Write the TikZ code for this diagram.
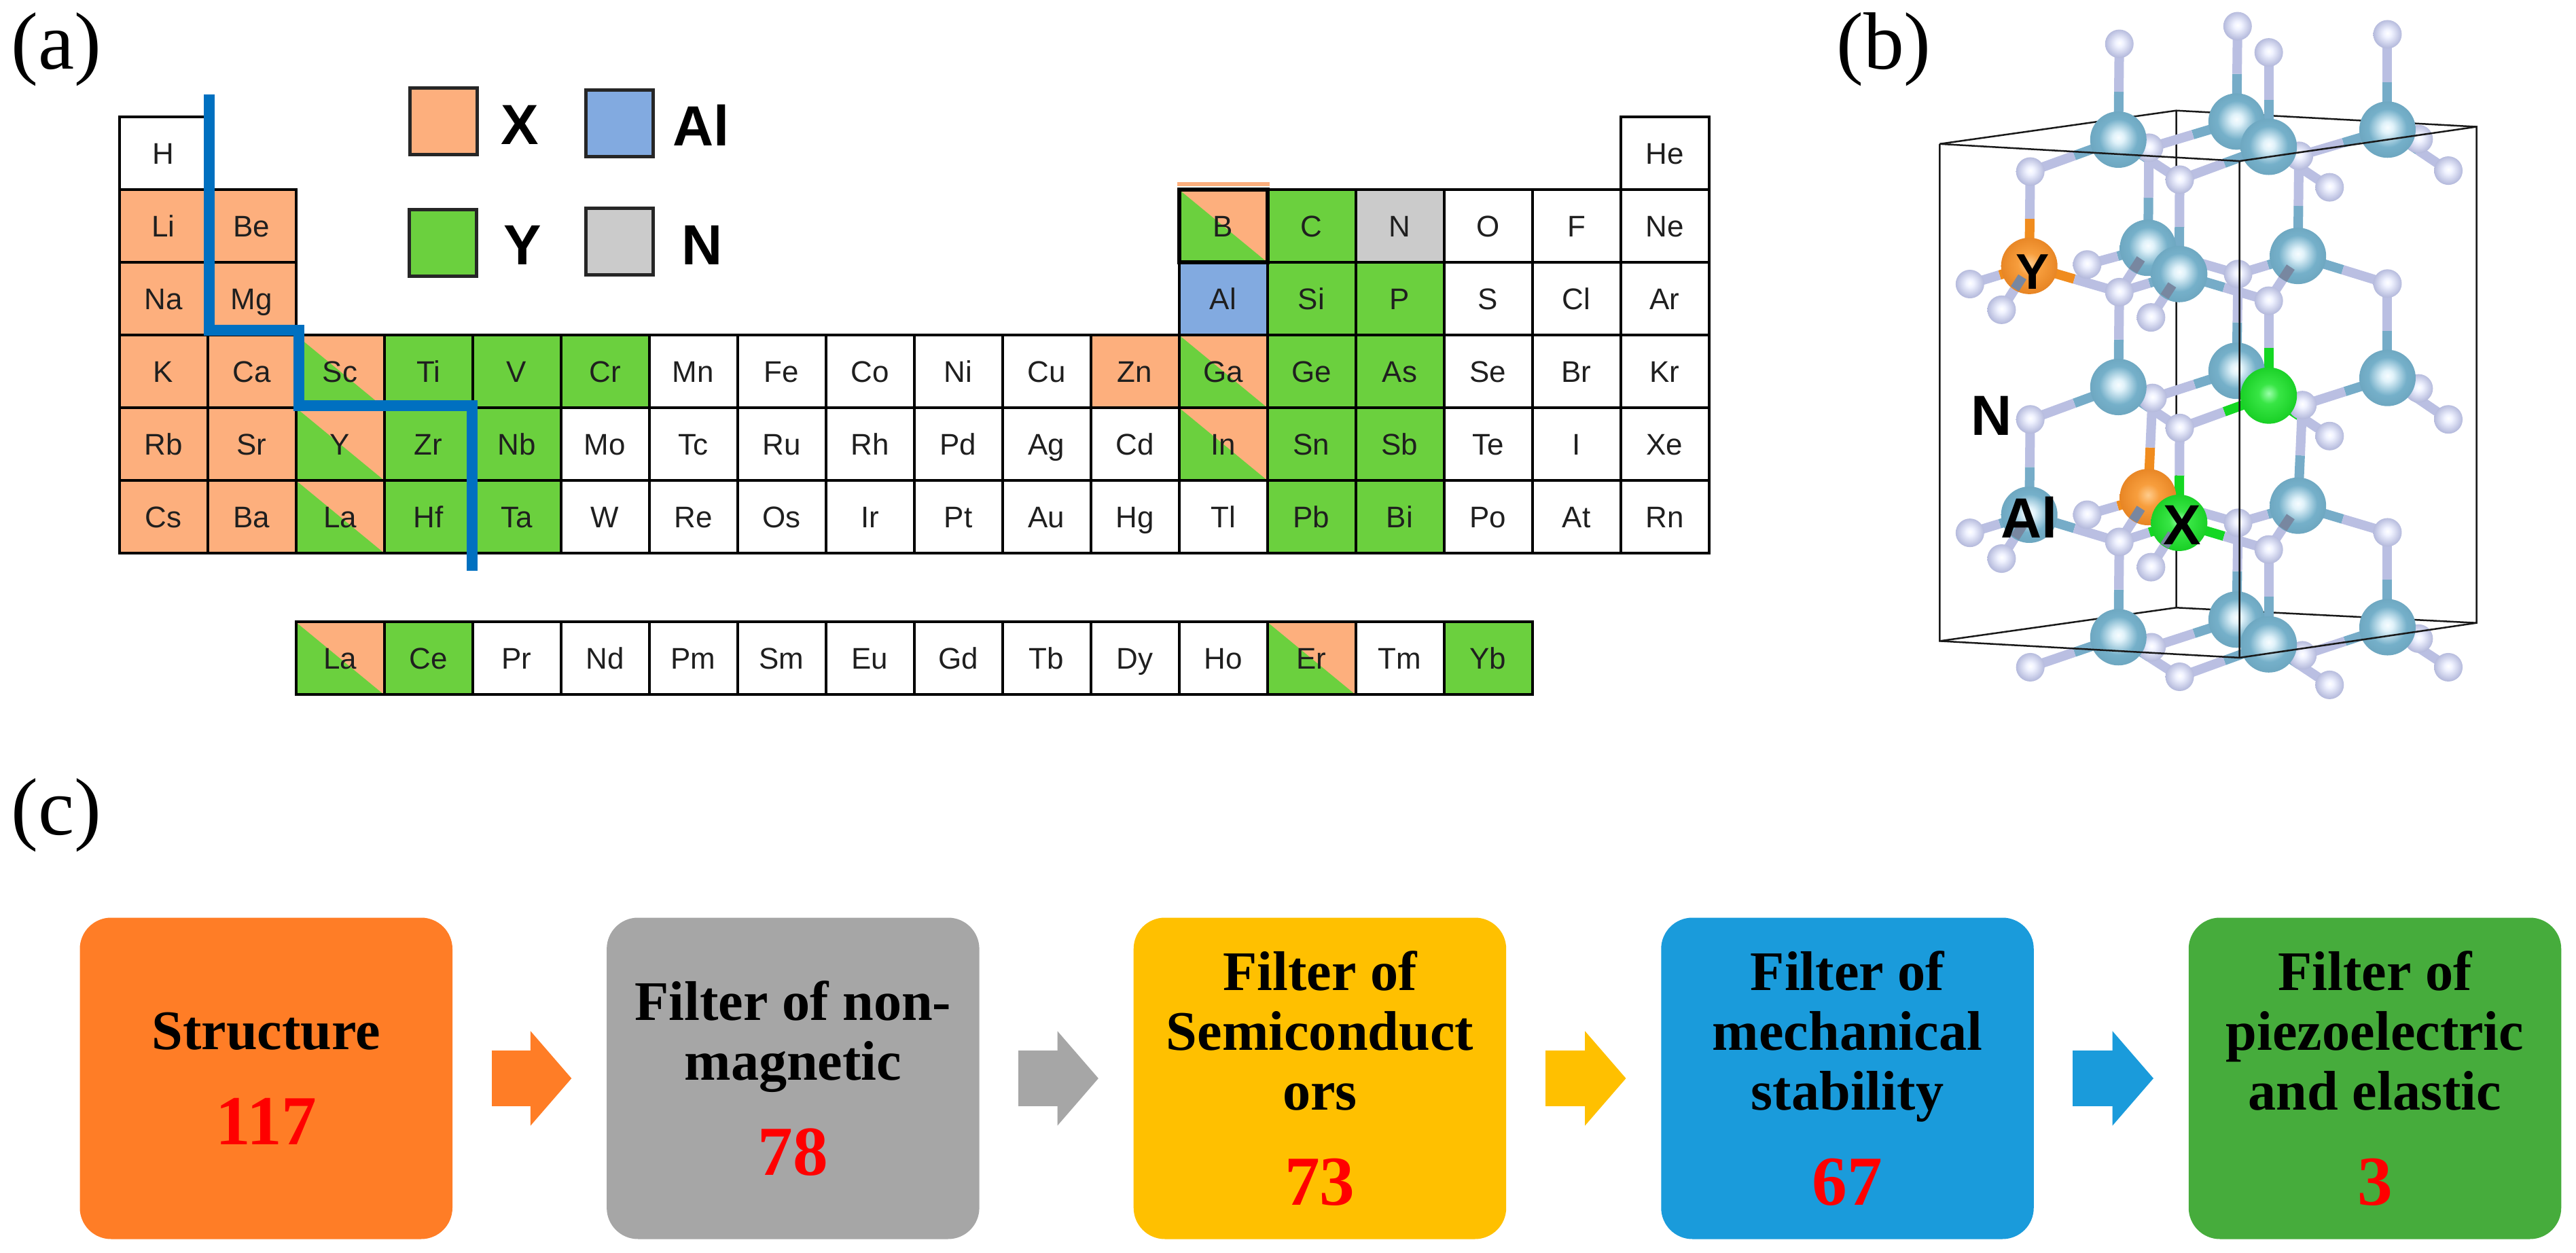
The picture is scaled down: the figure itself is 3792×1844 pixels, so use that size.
\documentclass[tikz,border=0pt]{standalone}
\usepackage{fontspec}
\setmainfont{Liberation Serif}
\setsansfont{Liberation Sans}
\usetikzlibrary{arrows.meta,calc,backgrounds}

\definecolor{elorange}{RGB}{253,175,125}
\definecolor{elgreen}{RGB}{107,208,62}
\definecolor{elblue}{RGB}{130,170,224}
\definecolor{elgray}{RGB}{203,203,203}
\definecolor{flowgreen}{RGB}{70,172,60}
\definecolor{flowblue}{RGB}{26,155,219}
\definecolor{floworange}{RGB}{255,125,38}
\definecolor{flowyellow}{RGB}{255,192,0}
\definecolor{flowgray}{RGB}{166,166,166}
\definecolor{borderblue}{RGB}{0,112,192}
\definecolor{bondal}{RGB}{118,172,200}
\definecolor{bondn}{RGB}{186,191,226}
\definecolor{bondy}{RGB}{240,140,30}
\definecolor{bondx}{RGB}{20,215,35}
\definecolor{bondstub}{RGB}{120,135,160}

\pgfdeclareradialshading{alshade}{\pgfpoint{0bp}{2bp}}{rgb(0bp)=(.97,.99,1);rgb(5bp)=(.88,.95,.98);rgb(17bp)=(.46,.69,.79);rgb(36bp)=(.39,.61,.71);rgb(50bp)=(.30,.47,.56)}
\pgfdeclareradialshading{nshade}{\pgfpoint{0bp}{2bp}}{rgb(0bp)=(1,1,1);rgb(7bp)=(.94,.95,1);rgb(24bp)=(.72,.74,.87);rgb(50bp)=(.57,.59,.75)}
\pgfdeclareradialshading{yshade}{\pgfpoint{0bp}{2bp}}{rgb(0bp)=(1,.80,.55);rgb(10bp)=(.97,.62,.24);rgb(32bp)=(.88,.48,.10);rgb(50bp)=(.66,.35,.06)}
\pgfdeclareradialshading{xshade}{\pgfpoint{0bp}{2bp}}{rgb(0bp)=(.60,1,.66);rgb(9bp)=(.22,.90,.27);rgb(32bp)=(.05,.78,.10);rgb(50bp)=(.03,.53,.07)}

\newcommand{\flownum}[1]{{\fontsize{29.4}{25}\selectfont\color{red}#1}}

\tikzset{
	elcell/.style={draw=black, line width=.4mm, minimum width=13mm, minimum height=10.7mm, inner sep=0pt, text height=3.2mm, text depth=0pt, text=black!88, font=\fontsize{12.5}{15}\selectfont\sffamily},
	elw/.style={elcell, fill=white},
	elx/.style={elcell, fill=elorange},
	ely/.style={elcell, fill=elgreen},
	elal/.style={elcell, fill=elblue},
	eln/.style={elcell, fill=elgray},
	elxy/.style={elcell, fill=elorange, path picture={\fill[elgreen] (path picture bounding box.north west)--(path picture bounding box.south east)--(path picture bounding box.south west)--cycle;}},
	legendbox/.style={draw=black!85, line width=.5mm, minimum width=9.9mm, minimum height=9.8mm, inner sep=0pt},
	legendtext/.style={font=\fontsize{23.7}{26}\selectfont\sffamily\bfseries, inner sep=0pt},
	paneltext/.style={font=\fontsize{34}{36}\selectfont, anchor=base, inner sep=0pt},
	flowbox/.style={rounded corners=4.6mm, minimum width=54.85mm, minimum height=47.3mm, inner sep=0pt, align=center, font=\fontsize{23.4}{25}\selectfont\bfseries},
	flowarrow/.style={line width=8.2mm, -{Triangle[length=6.05mm, width=13.6mm]}},
	nball/.style={circle, minimum size=4.2mm, inner sep=0pt, shading=nshade},
	alball/.style={circle, minimum size=8.3mm, inner sep=0pt, shading=alshade},
	yball/.style={circle, minimum size=8.3mm, inner sep=0pt, shading=yshade},
	xball/.style={circle, minimum size=8.3mm, inner sep=0pt, shading=xshade},
	bondline/.style={line width=1.4mm},
	cellline/.style={draw=black!90, line width=.25mm},
}

\begin{document}
\begin{tikzpicture}[x=.1mm, y=-.1mm, >=latex]
\useasboundingbox (0,0) rectangle (3792,1844);

\node (pa)[paneltext] at (83,102) {(a)};
\node (pb)[paneltext] at (2773,102) {(b)};
\node (pc)[paneltext] at (83,1228) {(c)};

% periodic table
\foreach \c/\r/\e/\k in {1/1/H/elw,18/1/He/elw,
	1/2/Li/elx,2/2/Be/elx,14/2/C/ely,15/2/N/eln,16/2/O/elw,17/2/F/elw,18/2/Ne/elw,
	1/3/Na/elx,2/3/Mg/elx,13/3/Al/elal,14/3/Si/ely,15/3/P/ely,16/3/S/elw,17/3/Cl/elw,18/3/Ar/elw,
	1/4/K/elx,2/4/Ca/elx,3/4/Sc/elxy,4/4/Ti/ely,5/4/V/ely,6/4/Cr/ely,7/4/Mn/elw,8/4/Fe/elw,9/4/Co/elw,10/4/Ni/elw,11/4/Cu/elw,12/4/Zn/elx,13/4/Ga/elxy,14/4/Ge/ely,15/4/As/ely,16/4/Se/elw,17/4/Br/elw,18/4/Kr/elw,
	1/5/Rb/elx,2/5/Sr/elx,3/5/Y/elxy,4/5/Zr/ely,5/5/Nb/ely,6/5/Mo/elw,7/5/Tc/elw,8/5/Ru/elw,9/5/Rh/elw,10/5/Pd/elw,11/5/Ag/elw,12/5/Cd/elw,13/5/In/elxy,14/5/Sn/ely,15/5/Sb/ely,16/5/Te/elw,17/5/I/elw,18/5/Xe/elw,
	1/6/Cs/elx,2/6/Ba/elx,3/6/La/elxy,4/6/Hf/ely,5/6/Ta/ely,6/6/W/elw,7/6/Re/elw,8/6/Os/elw,9/6/Ir/elw,10/6/Pt/elw,11/6/Au/elw,12/6/Hg/elw,13/6/Tl/elw,14/6/Pb/ely,15/6/Bi/ely,16/6/Po/elw,17/6/At/elw,18/6/Rn/elw}
{
	\node (\e\r)[\k] at ({175.5+130*(\c-.5)},{172+107*(\r-.5)}) {\e};
}
\foreach \c/\e/\k in {3/La/elxy,4/Ce/ely,5/Pr/elw,6/Nd/elw,7/Pm/elw,8/Sm/elw,9/Eu/elw,10/Gd/elw,11/Tb/elw,12/Dy/elw,13/Ho/elw,14/Er/elxy,15/Tm/elw,16/Yb/ely}
{
	\node (\e7)[\k] at ({175.5+130*(\c-.5)},969) {\e};
}
\node (B2)[elxy, line width=.6mm] at ({175.5+130*12.5},{172+107*1.5}) {B};
\fill[elorange] ([yshift=.2mm]B2.north west) rectangle ([yshift=.8mm]B2.north east);

\draw[borderblue, line width=1.6mm] (307.5,139)--(307.5,486)--(439.5,486)--(439.5,597.5)--(695,597.5)--(695,840);

% legend
\node (lx)[legendbox, fill=elorange] at (653,179) {};
\node (lal)[legendbox, fill=elblue] at (912,182) {};
\node (ly)[legendbox, fill=elgreen] at (652,358) {};
\node (ln)[legendbox, fill=elgray] at (912,356) {};
\node (tx)[legendtext] at (765,184) {X};
\node (tal)[legendtext] at (1032,184) {Al};
\node (ty)[legendtext] at (769,361) {Y};
\node (tn)[legendtext] at (1034,361) {N};

% crystal cell
\begin{scope}[shift={(2650,0)}, x=.07283mm, y=-.07015mm]
\foreach \a/\px/\py in {u5/705/310,u6/1008/327,u7/1250/292,w5/712/835,w6/1015/850,w7/1250/815,y5/710/1358,y6/1015/1375,y7/1250/1340,
	v6/885/575,x6/885/1097}
{
	\node (\a)[nball] at (\px,\py) {};
}
\foreach \a/\px/\py in {a2/882/255,c2/882/778,e2/882/1300,b2/703/520,b4/1006/537,d4/1006/1061,a1/643/293,a4/1187/272,a3/947/308,b3/766/575,c1/643/812,c4/1187/793,d1/463/1080,e1/643/1337,e4/1187/1316,e3/947/1352}
{
	\node (\a)[alball] at (\px,\py) {};
}
\node (b1)[yball] at (463,558) {};
\node (d2)[yball] at (703,1043) {};
\node (c3)[xball] at (947,830) {};
\node (d3)[xball] at (766,1097) {};
\foreach \a/\px/\py in {t1/645/92,t2/884/55,t3/947/110,t4/1187/72,u1/465/360,u2/767/377,u3/1070/393,u4/1310/358,
	v1/343/596,v2/407/650,v3/580/555,v4/645/613,v5/709/666,v7/947/631,v8/1187/595,
	w1/465/880,w2/767/898,w3/1070/915,w4/1310/880,
	x1/343/1118,x2/407/1172,x3/580/1080,x4/645/1137,x5/709/1190,x7/947/1153,x8/1187/1117,
	y1/465/1400,y2/767/1420,y3/1070/1437,y4/1310/1400}
{
	\node (\a)[nball] at (\px,\py) {};
}

\coordinate (ctl) at (282,302);
\coordinate (ctf) at (888,338);
\coordinate (ctr) at (1367,266);
\coordinate (ctb) at (760,232);
\coordinate (cbl) at (282,1345);
\coordinate (cbf) at (888,1380);
\coordinate (cbr) at (1367,1307);
\coordinate (cbb) at (760,1275);

\begin{pgfonlayer}{background}
\draw[cellline] (ctl)--(ctb)--(ctr) (ctb)--(cbb) (cbl)--(cbb)--(cbr);
\foreach \m/\n/\col in {a1/t1/bondal,a2/t2/bondal,a3/t3/bondal,a4/t4/bondal,
	a1/u1/bondal,a1/u2/bondal,a1/u5/bondal,a2/u5/bondal,a2/u6/bondal,a3/u2/bondal,a3/u3/bondal,a3/u6/bondal,a4/u6/bondal,a4/u4/bondal,a4/u7/bondal,
	b1/u1/bondy,b2/u5/bondal,b3/u2/bondal,b4/u6/bondal,
	b1/v1/bondy,b1/v2/bondy,b1/v4/bondy,b2/v3/bondal,b2/v4/bondal,b2/v6/bondal,b3/v4/bondal,b3/v5/bondal,b3/v7/bondal,b4/v6/bondal,b4/v7/bondal,b4/v8/bondal,
	c1/v4/bondal,c2/v6/bondal,c3/v7/bondx,c4/v8/bondal,
	c1/w1/bondal,c1/w2/bondal,c1/w5/bondal,c2/w5/bondal,c2/w6/bondal,c3/w2/bondx,c3/w3/bondx,c3/w6/bondx,c4/w6/bondal,c4/w4/bondal,c4/w7/bondal,
	d1/w1/bondal,d2/w5/bondy,d3/w2/bondx,d4/w6/bondal,
	d1/x1/bondal,d1/x2/bondal,d1/x4/bondal,d2/x3/bondy,d2/x4/bondy,d2/x6/bondy,d3/x4/bondx,d3/x5/bondx,d3/x7/bondx,d4/x6/bondal,d4/x7/bondal,d4/x8/bondal,
	e1/x4/bondal,e2/x6/bondal,e3/x7/bondal,e4/x8/bondal,
	e1/y1/bondal,e1/y2/bondal,e1/y5/bondal,e2/y5/bondal,e2/y6/bondal,e3/y2/bondal,e3/y3/bondal,e3/y6/bondal,e4/y6/bondal,e4/y4/bondal,e4/y7/bondal}
{
	\draw[bondline, \col] (\m.center)--($(\m)!.5!(\n)$);
	\draw[bondline, bondn] ($(\m)!.5!(\n)$)--(\n.center);
}
\end{pgfonlayer}

\foreach \m/\n in {b1/v2,b2/v4,b3/v5,b4/v7,d1/x2,d2/x4,d3/x5,d4/x7}
{
	\draw[bondline, bondstub] ($(\m)!.25!(\n)$)--($(\m)!.52!(\n)$);
}

\draw[cellline] (ctl)--(ctf)--(ctr)--(cbr)--(cbf)--(cbl)--(ctl) (ctf)--(cbf);

\node (ty2)[legendtext, font=\fontsize{21}{24}\selectfont\sffamily\bfseries] at (470,570) {Y};
\node (tx2)[legendtext] at (772,1102) {X};
\node (tal2)[legendtext] at (463,1085) {Al};
\node (tn2)[legendtext] at (387,873) {N};
\end{scope}

% filter chain
\node (s1)[flowbox, fill=floworange] at (391.75,1587) {Structure\\[5.2mm]\flownum{117}};
\node (s2)[flowbox, fill=flowgray] at (1167.35,1587) {Filter of non-\\magnetic\\[5.2mm]\flownum{78}};
\node (s3)[flowbox, fill=flowyellow] at (1942.95,1587) {Filter of\\Semiconduct\\ors\\[5.2mm]\flownum{73}};
\node (s4)[flowbox, fill=flowblue] at (2719.5,1587) {Filter of\\mechanical\\stability\\[5.2mm]\flownum{67}};
\node (s5)[flowbox, fill=flowgreen] at (3496,1587) {Filter of\\piezoelectric\\and elastic\\[5.2mm]\flownum{3}};

\foreach \a/\b/\col in {s1/s2/floworange,s2/s3/flowgray,s3/s4/flowyellow,s4/s5/flowblue}
{
	\draw[flowarrow, \col] ([xshift=5.7mm]\a.east)--([xshift=-5.1mm]\b.west);
}
\end{tikzpicture}
\end{document}
